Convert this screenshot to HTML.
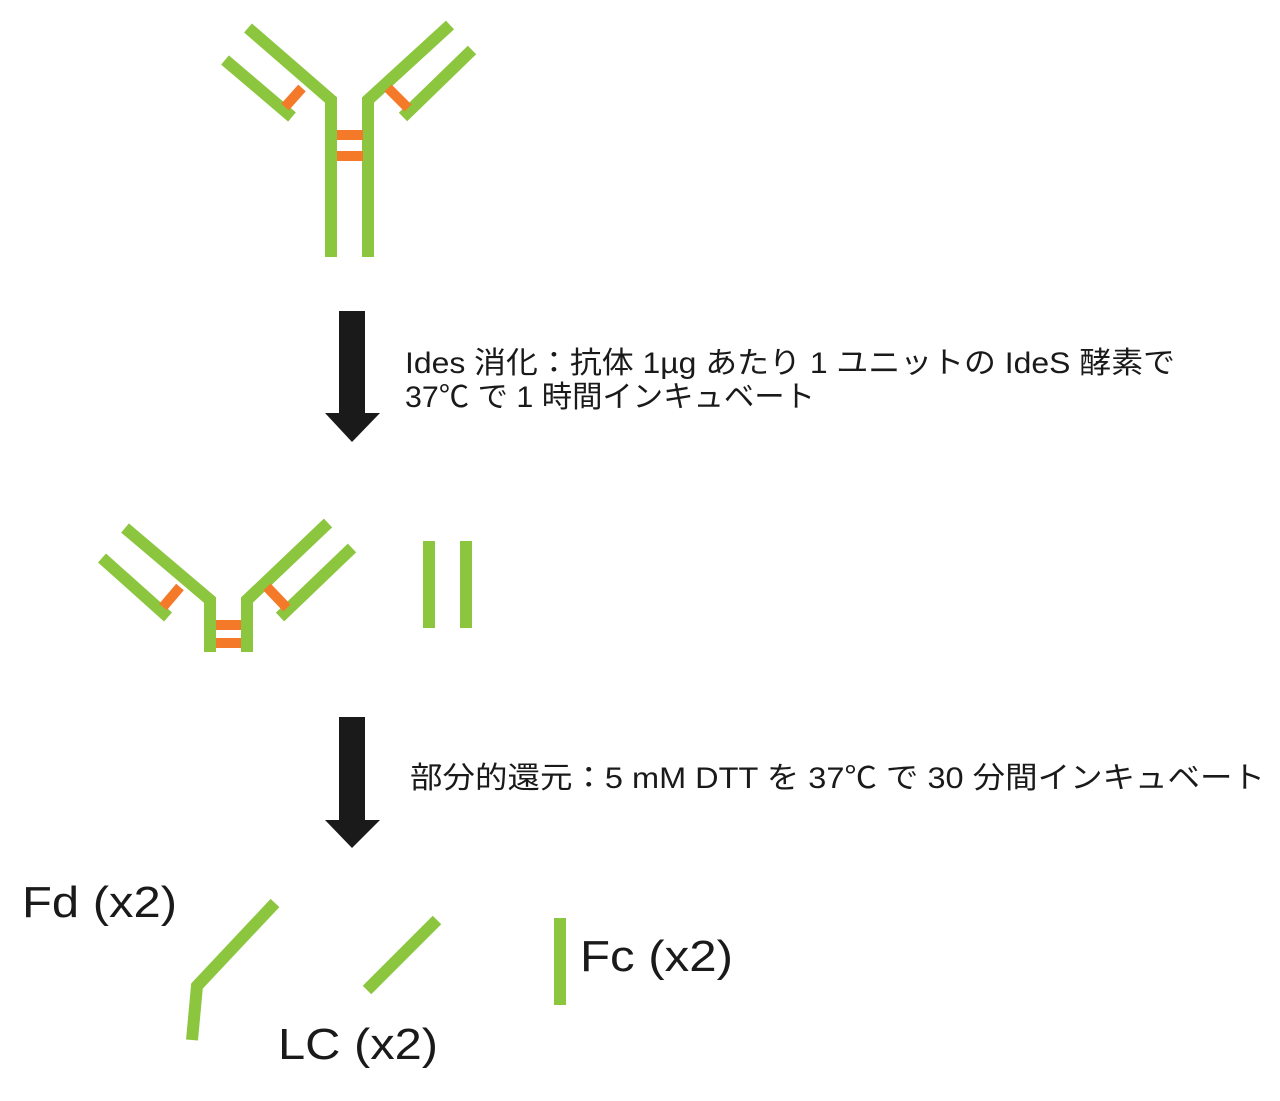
<!DOCTYPE html>
<html><head><meta charset="utf-8"><style>
html,body{margin:0;padding:0;background:#fff;}
svg{display:block;}
text{font-family:"Liberation Sans","Noto Sans CJK JP",sans-serif;fill:#1a1a1a;}
</style></head><body>
<svg width="1280" height="1101" viewBox="0 0 1280 1101" xmlns="http://www.w3.org/2000/svg">
<g stroke="#8cc63f" stroke-width="12" fill="none" stroke-linejoin="miter">
<polyline points="248,28 331,100 331,257"/>
<polyline points="450,25 368,100 368,257"/>
<line x1="225" y1="60" x2="292" y2="117"/>
<line x1="472" y1="50" x2="403" y2="117"/>
<polyline points="125,528 210,600 210,652"/>
<polyline points="328,523 247,600 247,652"/>
<line x1="102" y1="558" x2="168" y2="617"/>
<line x1="352" y1="548" x2="280" y2="617"/>
<line x1="429" y1="541" x2="429" y2="628"/>
<line x1="466" y1="541" x2="466" y2="628"/>
<polyline points="275,903 197,986 192,1040"/>
<line x1="437" y1="920" x2="367" y2="990"/>
<line x1="560" y1="918" x2="560" y2="1005"/>
</g>
<g stroke="#f47a2a" stroke-width="10">
<line x1="285" y1="107" x2="302" y2="88"/>
<line x1="388" y1="88" x2="408" y2="108"/>
<line x1="337" y1="135" x2="363" y2="135"/>
<line x1="337" y1="156" x2="363" y2="156"/>
<line x1="163" y1="607" x2="180" y2="587"/>
<line x1="267" y1="587" x2="287" y2="608"/>
<line x1="216" y1="625" x2="241" y2="625"/>
<line x1="216" y1="643" x2="241" y2="643"/>
</g>
<g fill="#1a1a1a">
<polygon points="339,311 365,311 365,413 380,413 352,442 325,413 339,413"/>
<polygon points="339,717 365,717 365,820 380,820 352,848 325,820 339,820"/>
</g>
<text x="405" y="373" font-size="30" textLength="770" lengthAdjust="spacingAndGlyphs">Ides 消化：抗体 1µg あたり 1 ユニットの IdeS 酵素で</text>
<text x="405" y="407" font-size="30" textLength="410" lengthAdjust="spacingAndGlyphs">37℃ で 1 時間インキュベート</text>
<text x="410" y="788" font-size="30" textLength="855" lengthAdjust="spacingAndGlyphs">部分的還元：5 mM DTT を 37℃ で 30 分間インキュベート</text>
<text x="22" y="917" font-size="44" textLength="155" lengthAdjust="spacingAndGlyphs">Fd (x2)</text>
<text x="580" y="971" font-size="44" textLength="153" lengthAdjust="spacingAndGlyphs">Fc (x2)</text>
<text x="278" y="1059" font-size="44" textLength="160" lengthAdjust="spacingAndGlyphs">LC (x2)</text>
</svg>
</body></html>
